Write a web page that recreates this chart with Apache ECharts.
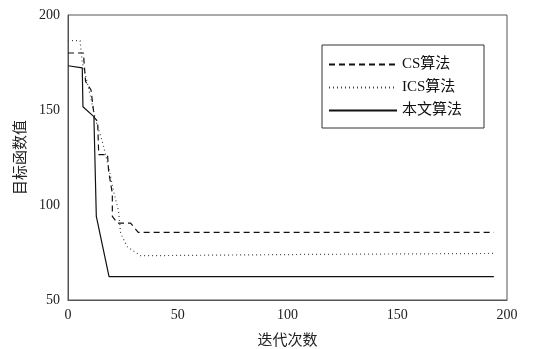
<!DOCTYPE html>
<html lang="zh">
<head>
<meta charset="UTF-8">
<title>迭代曲线</title>
<script src="https://cdn.jsdelivr.net/npm/echarts@6/dist/echarts.min.js"></script>
<style>
  html, body { margin: 0; padding: 0; background: #fff; }
  #main { width: 533px; height: 349px; }
</style>
</head>
<body>
<div id="main"></div>
<script>
  // 数据: [迭代次数, 目标函数值]
  var seriesNames = ['CS算法', 'ICS算法', '本文算法'];
  var csData = [[0, 180], [7, 180], [8, 165], [10.5, 160.5], [12, 146], [13.5, 144],
    [14, 126.5], [18, 126.5], [18.5, 118], [20.2, 106], [20.2, 94], [22.5, 90.5],
    [28.5, 90.5], [32, 85.6], [194, 85.6]];
  var icsData = [[0, 186.5], [5.5, 186.5], [6.5, 175], [9.5, 161], [12.5, 145],
    [15.5, 134], [18.5, 120], [21, 106], [23, 97], [24, 85], [27, 78], [33, 73.3],
    [110, 74], [194, 74.5]];
  var oursData = [[0, 173.3], [6.5, 172.2], [6.8, 151.7], [11.8, 146.5], [12.9, 94],
    [18.7, 62.3], [194, 62.3]];
  var xTicks = [0, 50, 100, 150, 200];
  var yTicks = [50, 100, 150, 200];

  var font = "'Liberation Serif', 'Noto Sans CJK SC', serif";
  var chart = echarts.init(document.getElementById('main'));

  chart.setOption({
    animation: false,
    grid: {
      left: 68, right: 26, top: 15, bottom: 49,
      outerBoundsMode: 'none',
      show: true, borderColor: '#555', borderWidth: 1
    },
    legend: {
      orient: 'vertical',
      left: 322, top: 45,
      padding: [12, 22, 10, 6],
      itemGap: 8,
      itemWidth: 68,
      itemHeight: 14,
      borderColor: '#333',
      borderWidth: 1,
      itemStyle: { opacity: 0 },
      textStyle: { fontFamily: font, fontSize: 15, color: '#111' },
      data: seriesNames
    },
    xAxis: {
      type: 'value',
      min: xTicks[0], max: xTicks[xTicks.length - 1], interval: 50,
      name: '迭代次数',
      nameLocation: 'middle',
      nameGap: 34,
      nameTextStyle: { fontFamily: font, fontSize: 15, color: '#222' },
      axisLine: { lineStyle: { color: '#555' } },
      axisTick: { show: false },
      splitLine: { show: false },
      axisLabel: { fontFamily: font, fontSize: 14, color: '#222', margin: 8 }
    },
    yAxis: {
      type: 'value',
      min: yTicks[0], max: yTicks[yTicks.length - 1], interval: 50,
      name: '目标函数值',
      nameLocation: 'middle',
      nameGap: 39,
      nameTextStyle: { fontFamily: font, fontSize: 15, color: '#222' },
      axisLine: { lineStyle: { color: '#555' } },
      axisTick: { show: false },
      splitLine: { show: false },
      axisLabel: { fontFamily: font, fontSize: 14, color: '#222', margin: 8 }
    },
    series: [
      {
        name: seriesNames[0], type: 'line', data: csData, symbol: 'none',
        lineStyle: { color: '#111', width: 1.2, type: [6, 4] },
        itemStyle: { color: '#111' }
      },
      {
        name: seriesNames[1], type: 'line', data: icsData, symbol: 'none',
        lineStyle: { color: '#444', width: 1.2, type: [1, 3] },
        itemStyle: { color: '#444' }
      },
      {
        name: seriesNames[2], type: 'line', data: oursData, symbol: 'none',
        lineStyle: { color: '#111', width: 1.2, type: 'solid' },
        itemStyle: { color: '#111' }
      }
    ]
  });
</script>
</body>
</html>
